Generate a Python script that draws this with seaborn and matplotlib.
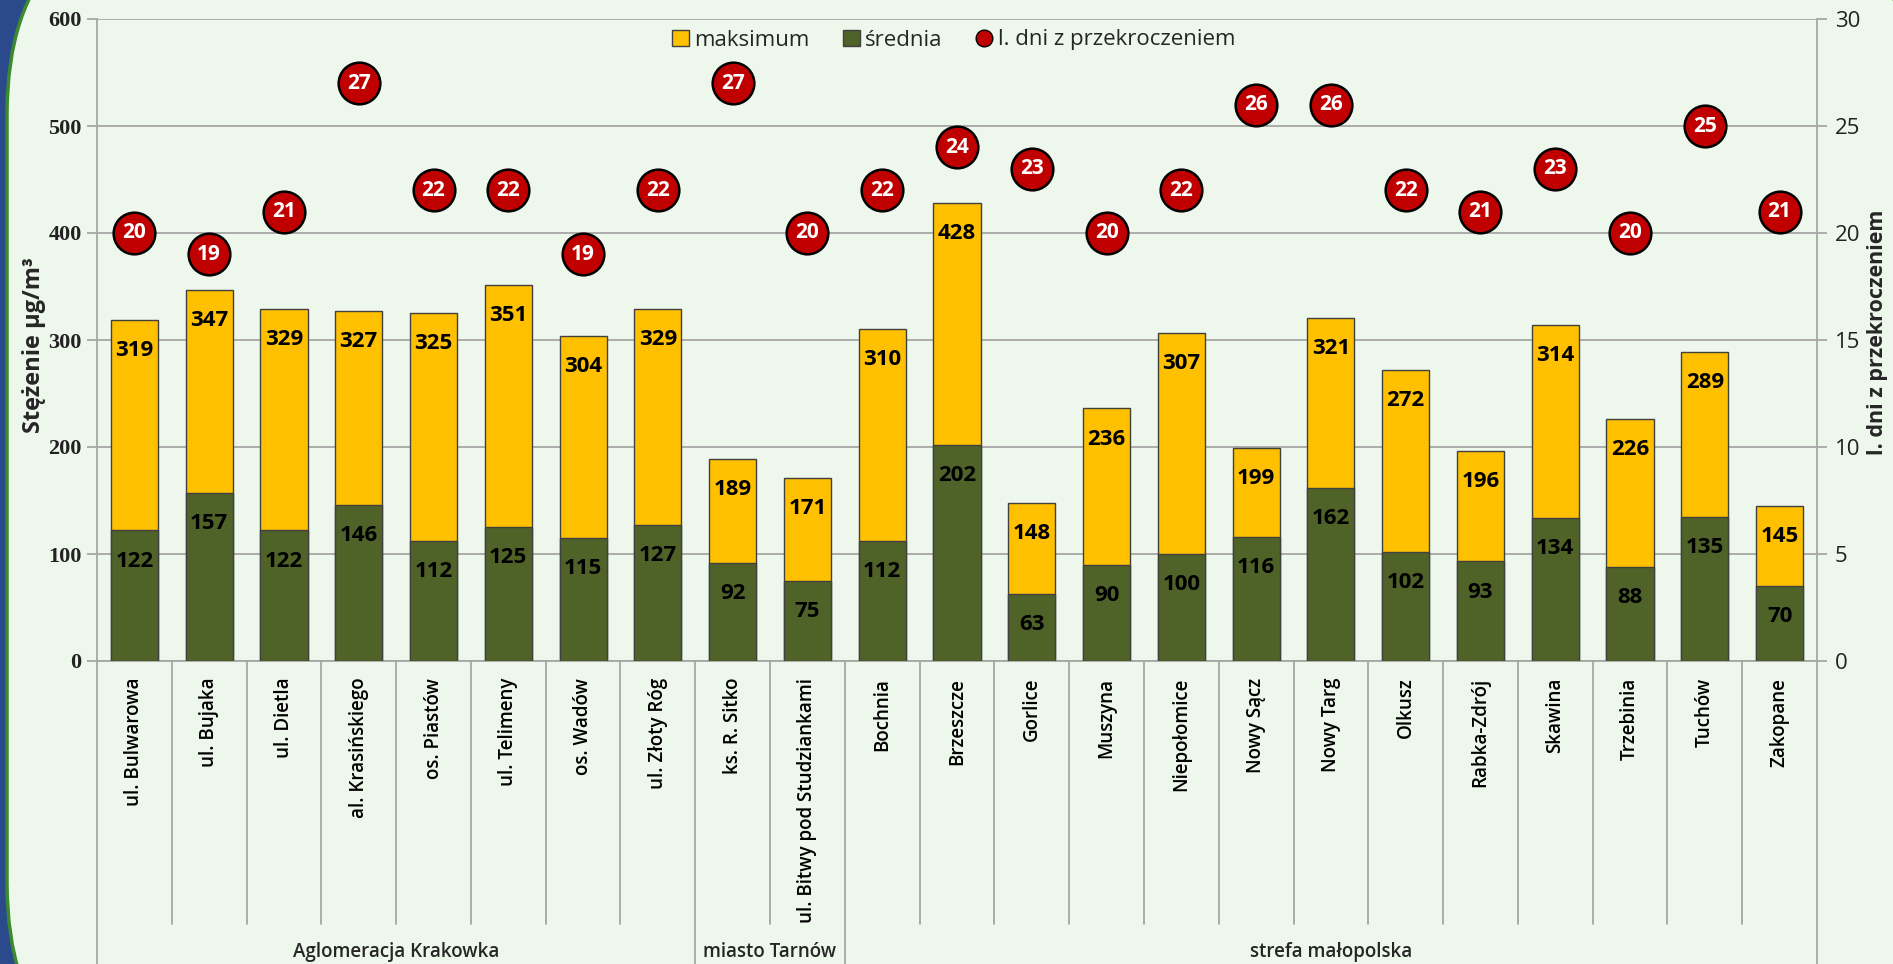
import numpy as np
import pandas as pd
import matplotlib
matplotlib.use('Agg')
import matplotlib.pyplot as plt
import seaborn as sns
from matplotlib.patches import FancyBboxPatch, Patch
from matplotlib.lines import Line2D
from matplotlib.transforms import IdentityTransform

# dane
stacje = ["ul. Bulwarowa", "ul. Bujaka", "ul. Dietla", "al. Krasińskiego", "os. Piastów",
          "ul. Telimeny", "os. Wadów", "ul. Złoty Róg", "ks. R. Sitko",
          "ul. Bitwy pod Studziankami", "Bochnia", "Brzeszcze", "Gorlice", "Muszyna",
          "Niepołomice", "Nowy Sącz", "Nowy Targ", "Olkusz", "Rabka-Zdrój", "Skawina",
          "Trzebinia", "Tuchów", "Zakopane"]
maksimum = [319, 347, 329, 327, 325, 351, 304, 329, 189, 171, 310, 428, 148, 236,
            307, 199, 321, 272, 196, 314, 226, 289, 145]
srednia = [122, 157, 122, 146, 112, 125, 115, 127, 92, 75, 112, 202, 63, 90,
           100, 116, 162, 102, 93, 134, 88, 135, 70]
dni = [20, 19, 21, 27, 22, 22, 19, 22, 27, 20, 22, 24, 23, 20, 22, 26, 26, 22, 21,
       23, 20, 25, 21]
grupy = ["Aglomeracja Krakowka", "miasto Tarnów", "strefa małopolska"]
grupy_n = [8, 2, 13]

df = pd.DataFrame({'stacja': stacje, 'maksimum': maksimum, 'srednia': srednia, 'dni': dni})
n = len(df)

sns.set_style('white')
plt.rcParams['font.family'] = ['Open Sans', 'DejaVu Sans']

tlo = '#eef7eb'
szary = '#a6a6a6'
zolty = '#ffc000'
zielony = '#4f6228'
czerwony = '#c00000'

fig = plt.figure(figsize=(18.93, 9.64), dpi=100, facecolor='#2b4a8c')
# ramka slajdu
ramka = FancyBboxPatch((7, -132), 1909, 1195, boxstyle='round,pad=0,rounding_size=213',
                       transform=IdentityTransform(), facecolor=tlo,
                       edgecolor='#3b8a2e', lw=2.5, zorder=-10)
fig.patches.append(ramka)

ax = fig.add_axes([97 / 1893, 1 - 661 / 964, 1720 / 1893, 642 / 964])
ax.set_facecolor('none')

sns.barplot(data=df, x='stacja', y='maksimum', color=zolty, saturation=1, width=0.63,
            edgecolor='#404040', linewidth=1, ax=ax, zorder=2)
sns.barplot(data=df, x='stacja', y='srednia', color=zielony, saturation=1, width=0.63,
            edgecolor='#404040', linewidth=1, ax=ax, zorder=3)

for i in range(n):
    ax.annotate(str(df.maksimum[i]), xy=(i, df.maksimum[i]), xytext=(0, -22),
                textcoords='offset points', ha='center', va='center',
                fontsize=16, fontweight='bold', color='black', zorder=4)
    ax.annotate(str(df.srednia[i]), xy=(i, df.srednia[i]), xytext=(0, -22),
                textcoords='offset points', ha='center', va='center',
                fontsize=16, fontweight='bold', color='black', zorder=4)

ax.set_ylim(0, 600)
ax.set_yticks(range(0, 601, 100))
ax.set_xlim(-0.5, n - 0.5)
ax.yaxis.grid(True, color=szary, lw=1.3)
ax.set_axisbelow(True)
ax.set_xlabel('')
ax.set_ylabel('')
ax.set_xticks(range(n))
ax.set_xticklabels(stacje, rotation=90, fontsize=13.5, fontweight='semibold', va='top')
ax.tick_params(axis='x', length=0, pad=12, colors='black')
ax.tick_params(axis='y', length=7, color=szary, width=1.3, direction='out',
               labelsize=16, pad=4)
for t in ax.get_yticklabels():
    t.set_fontfamily('Liberation Serif')
    t.set_fontweight('bold')
    t.set_color('#222222')
for s in ['left', 'right', 'bottom']:
    ax.spines[s].set_color(szary)
    ax.spines[s].set_linewidth(1.3)
ax.spines['top'].set_visible(False)

# separatory kategorii i grup
trans = ax.get_xaxis_transform()
granice = np.cumsum(grupy_n)
for k in range(1, n):
    dol = -0.5 if k in granice else -0.41
    ax.plot([k - 0.5, k - 0.5], [0, dol], transform=trans, clip_on=False,
            color=szary, lw=1.3)
for k in [-0.5, n - 0.5]:
    ax.plot([k, k], [0, -0.5], transform=trans, clip_on=False, color=szary, lw=1.3)
start = 0
for g, ile in zip(grupy, grupy_n):
    ax.text(start + (ile - 1) / 2, -0.453, g, transform=trans, ha='center', va='center',
            fontsize=13.5, fontweight='semibold')
    start += ile

# os druga: liczba dni
ax2 = ax.twinx()
sns.scatterplot(x=np.arange(n), y=df.dni, ax=ax2, s=30 ** 2, color=czerwony,
                edgecolor='black', linewidth=1.8, zorder=5, legend=False)
for i, d in enumerate(df.dni):
    ax2.text(i, d, str(d), ha='center', va='center', color='white',
             fontsize=15, fontweight='bold', zorder=6)
ax2.set_ylim(0, 30)
ax2.set_yticks(range(0, 31, 5))
ax2.set_ylabel('')
ax2.tick_params(axis='y', length=7, color=szary, width=1.3, direction='out',
                labelsize=16, pad=6, colors='#222222')
ax2.tick_params(axis='y', color=szary)
for s in ax2.spines.values():
    s.set_visible(False)

fig.text(34 / 1893, 1 - 345 / 964, 'Stężenie µg/m³', rotation=90, ha='center',
         va='center', fontsize=17, fontweight='bold')
fig.text(1878 / 1893, 1 - 332 / 964, 'l. dni z przekroczeniem', rotation=90,
         ha='center', va='center', fontsize=15.5, fontweight='bold')

uchwyty = [Patch(facecolor=zolty, edgecolor='#404040'),
           Patch(facecolor=zielony, edgecolor='#404040'),
           Line2D([], [], marker='o', ls='', markerfacecolor=czerwony,
                  markeredgecolor='black', markersize=12)]
ax2.legend(uchwyty, ['maksimum', 'średnia', 'l. dni z przekroczeniem'], ncol=3,
           frameon=False, fontsize=16, handlelength=0.75, handleheight=0.75,
           handletextpad=0.25, columnspacing=1.5, loc='center',
           bbox_to_anchor=(954 / 1893, 1 - 40 / 964), bbox_transform=fig.transFigure)

fig.savefig('out.png', dpi=100, facecolor=fig.get_facecolor())
